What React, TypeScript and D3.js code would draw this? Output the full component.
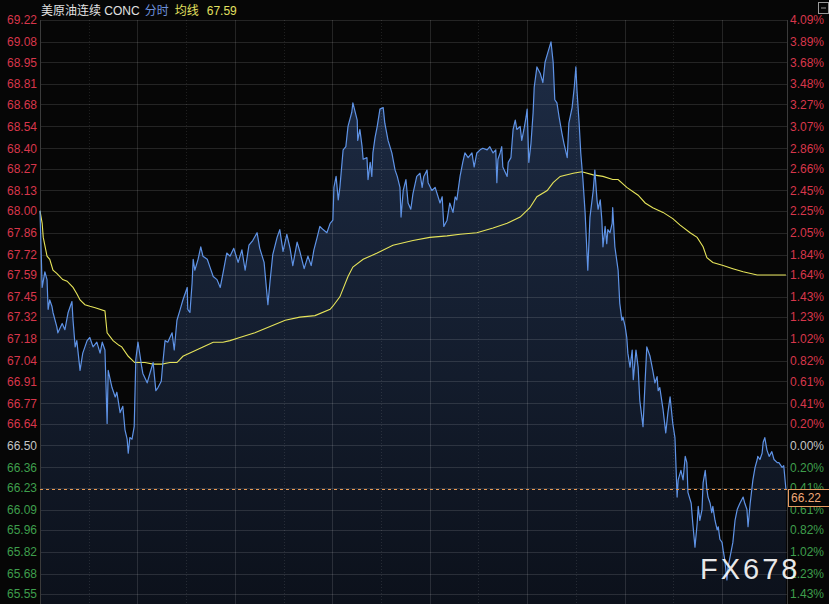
import React from "react";
import * as d3 from "d3";

const W = 829;
const H = 604;

const leftTicks = ["69.22","69.08","68.95","68.81","68.68","68.54","68.40","68.27","68.13","68.00","67.86","67.72","67.59","67.45","67.32","67.18","67.04","66.91","66.77","66.64","66.50","66.36","66.23","66.09","65.96","65.82","65.68","65.55"];
const rightTicks = ["4.09%","3.89%","3.68%","3.48%","3.27%","3.07%","2.86%","2.66%","2.45%","2.25%","2.05%","1.84%","1.64%","1.43%","1.23%","1.02%","0.82%","0.61%","0.41%","0.20%","0.00%","0.20%","0.41%","0.61%","0.82%","1.02%","1.23%","1.43%"];
const basePrice = 66.5;
const lastPrice = 66.22;
const avgLast = 67.59;
const sessionMinutes = 1380;
const gridTimes = [90,180,270,360,450,540,630,720,810,900,990,1080,1170,1260];

const priceTimes = [0,4,9,13,15,18,22,24,31,33,41,46,52,59,61,65,68,74,79,87,92,98,105,111,115,120,124,126,133,139,142,148,153,157,161,163,166,170,174,177,181,185,188,190,198,203,209,214,218,224,227,231,236,244,248,253,259,264,272,273,277,281,283,286,292,297,301,309,314,320,327,333,338,345,351,358,366,373,379,386,393,401,406,414,421,425,430,438,443,449,456,462,467,475,480,488,495,501,506,512,517,523,530,536,541,543,547,551,554,558,560,565,569,576,578,586,587,591,595,597,604,606,610,613,615,619,623,628,634,637,643,650,656,660,665,667,671,676,680,685,689,696,702,706,709,715,717,724,730,739,743,746,752,757,763,767,770,776,781,785,791,798,802,807,813,818,826,831,837,842,844,846,850,853,855,863,865,870,874,878,881,887,890,894,898,900,903,907,911,913,918,924,929,933,938,944,948,951,955,959,964,968,974,977,983,987,990,992,996,999,1003,1007,1012,1016,1022,1025,1029,1031,1035,1038,1040,1044,1047,1049,1053,1057,1058,1062,1066,1068,1071,1075,1077,1081,1084,1086,1090,1094,1096,1101,1105,1108,1114,1118,1121,1127,1132,1136,1140,1142,1145,1151,1156,1160,1164,1169,1173,1177,1179,1184,1188,1192,1195,1197,1203,1206,1210,1214,1216,1219,1223,1225,1229,1232,1234,1238,1241,1243,1247,1251,1253,1256,1260,1262,1265,1269,1271,1275,1280,1284,1288,1293,1299,1302,1306,1308,1312,1315,1317,1321,1325,1326,1330,1334,1336,1339,1343,1347,1352,1356,1362,1365,1371,1374,1378];
const priceValues = [68.00,67.51,67.61,67.56,67.37,67.43,67.39,67.35,67.26,67.22,67.28,67.24,67.35,67.42,67.30,67.13,67.17,66.98,67.09,67.17,67.19,67.13,67.16,67.09,67.16,67.11,66.64,66.98,66.87,66.81,66.84,66.71,66.75,66.60,66.54,66.45,66.55,66.54,66.62,67.05,67.16,67.07,67.00,66.96,66.90,66.96,67.03,66.85,66.87,66.91,67.03,67.17,67.16,67.22,67.11,67.30,67.37,67.43,67.51,67.37,67.35,67.54,67.69,67.62,67.69,67.77,67.71,67.69,67.64,67.58,67.56,67.51,67.60,67.73,67.71,67.76,67.67,67.75,67.62,67.78,67.81,67.86,67.76,67.67,67.40,67.55,67.72,67.83,67.88,67.74,67.85,67.76,67.65,67.80,67.74,67.63,67.71,67.65,67.75,67.83,67.90,67.88,67.86,67.92,67.94,68.15,68.22,68.07,68.15,68.31,68.39,68.41,68.54,68.63,68.69,68.58,68.45,68.52,68.41,68.33,68.34,68.20,68.31,68.22,68.37,68.47,68.54,68.65,68.66,68.56,68.45,68.37,68.26,68.22,68.15,67.96,68.13,68.20,68.05,68.01,68.11,68.22,68.24,68.15,68.22,68.26,68.18,68.13,68.15,68.05,68.09,67.90,67.94,68.05,67.99,68.09,68.07,68.22,68.31,68.37,68.34,68.37,68.28,68.37,68.39,68.40,68.39,68.41,68.37,68.39,68.18,68.33,68.37,68.41,68.28,68.22,68.31,68.34,68.52,68.58,68.52,68.54,68.45,68.52,68.60,68.65,68.31,68.43,68.63,68.79,68.92,68.88,68.82,68.95,69.01,69.08,68.95,68.71,68.69,68.60,68.50,68.43,68.34,68.56,68.66,68.79,68.92,68.77,68.56,68.37,68.20,67.99,67.62,67.96,68.13,68.26,68.07,68.01,68.07,67.94,67.77,67.90,67.79,67.88,67.86,67.92,68.02,67.77,67.67,67.62,67.41,67.30,67.32,67.26,67.19,67.09,67.00,67.11,66.92,67.11,67.00,66.79,66.62,66.92,67.13,67.07,66.98,66.90,66.94,66.85,66.87,66.73,66.58,66.71,66.81,66.64,66.55,66.17,66.28,66.34,66.28,66.43,66.39,66.20,66.13,66.00,65.85,66.00,66.11,66.02,66.09,66.26,66.34,66.22,66.17,66.13,66.07,66.11,66.02,65.96,65.98,65.90,65.88,65.83,65.77,65.64,65.72,65.79,65.88,66.02,66.09,66.13,66.17,66.13,66.09,65.98,66.13,66.22,66.28,66.36,66.41,66.43,66.41,66.45,66.52,66.55,66.47,66.43,66.46,66.41,66.39,66.39,66.36,66.37,66.22];

const avgTimes = [0,4,6,13,18,24,31,42,50,61,68,74,83,92,102,120,124,135,146,151,163,175,194,209,225,240,253,264,283,301,320,338,351,369,397,425,453,480,508,536,541,554,569,578,597,623,652,689,720,752,776,807,837,863,887,905,918,937,948,961,985,1001,1022,1040,1058,1068,1084,1105,1118,1132,1151,1169,1182,1201,1214,1225,1232,1243,1262,1280,1299,1325,1349,1378];
const avgValues = [68.00,67.92,67.83,67.71,67.69,67.62,67.60,67.56,67.55,67.51,67.47,67.43,67.40,67.39,67.38,67.36,67.22,67.17,67.14,67.13,67.07,67.03,67.03,67.02,67.02,67.03,67.03,67.07,67.10,67.13,67.16,67.16,67.17,67.19,67.22,67.26,67.30,67.32,67.33,67.37,67.39,67.45,67.58,67.64,67.69,67.73,67.78,67.81,67.83,67.84,67.85,67.86,67.89,67.92,67.96,68.02,68.09,68.13,68.18,68.22,68.24,68.25,68.23,68.22,68.20,68.20,68.15,68.10,68.05,68.02,67.99,67.95,67.91,67.86,67.83,67.77,67.70,67.67,67.65,67.63,67.61,67.59,67.59,67.59];

const PL = 40, PR = 787, PT = 20, PB = 594;
const FONT = "Arial, 'Liberation Sans', 'Noto Sans CJK SC', sans-serif";

export default function App() {
  const x = d3.scaleLinear().domain([0, sessionMinutes]).range([PL, PR]);
  const y = d3.scaleLinear().domain([65.55, 69.22]).range([PB, PT]);

  const pricePts: [number, number][] = priceTimes.map((t, i) => [t, priceValues[i]]);
  const avgPts: [number, number][] = avgTimes.map((t, i) => [t, avgValues[i]]);

  const line = d3.line<[number, number]>().x(d => x(d[0])).y(d => y(d[1]));
  const area = d3.area<[number, number]>().x(d => x(d[0])).y0(H).y1(d => y(d[1]));

  const tickColor = (v: number) => (v > basePrice + 0.001 ? "#d8364b" : v < basePrice - 0.001 ? "#3e9e4c" : "#c4c4c4");

  const yLast = Math.round(y(lastPrice)) + 0.5;

  return (
    <div style={{ position: "fixed", left: 0, top: 0, width: W, height: H, background: "#050505" }}>
      <svg width={W} height={H} style={{ display: "block" }} fontFamily={FONT}>
        <defs>
          <linearGradient id="fillGrad" gradientUnits="userSpaceOnUse" x1="0" y1={PT} x2="0" y2={H}>
            <stop offset="0%" stopColor="#1e2d47" />
            <stop offset="100%" stopColor="#0c111b" />
          </linearGradient>
        </defs>
        <rect x={0} y={0} width={W} height={H} fill="#060606" />

        <path d={area(pricePts) || ""} fill="url(#fillGrad)" />

        {leftTicks.map((lbl, i) => {
          const yy = Math.round(y(+lbl)) + 0.5;
          return <line key={"h" + i} x1={PL} x2={PR} y1={yy} y2={yy} stroke="rgba(255,255,255,0.12)" strokeWidth={1} />;
        })}
        {gridTimes.map((t, i) => {
          const xx = Math.round(x(t)) + 0.5;
          const solid = t % 180 === 0;
          return (
            <line key={"v" + i} x1={xx} x2={xx} y1={PT} y2={H}
              stroke={solid ? "rgba(255,255,255,0.12)" : "rgba(255,255,255,0.10)"}
              strokeDasharray={solid ? undefined : "1,2"} strokeWidth={1} />
          );
        })}
        <line x1={PL + 0.5} x2={PL + 0.5} y1={PT} y2={H} stroke="#3a3a3a" />
        <line x1={PR + 0.5} x2={PR + 0.5} y1={PT} y2={H} stroke="#3a3a3a" />

        <path d={line(avgPts) || ""} fill="none" stroke="#e6e45a" strokeWidth={1.1} />
        <path d={line(pricePts) || ""} fill="none" stroke="#5f93e6" strokeWidth={1.2} strokeLinejoin="round" />

        <line x1={PL} x2={PR} y1={yLast} y2={yLast} stroke="#e89a55" strokeDasharray="3,3" strokeWidth={1} />

        {leftTicks.map((lbl, i) => (
          <text key={"l" + i} x={37} y={y(+lbl)} dy="0.36em" textAnchor="end" fontSize={12} fill={tickColor(+lbl)}>{lbl}</text>
        ))}
        {rightTicks.map((lbl, i) => (
          <text key={"r" + i} x={790} y={y(+leftTicks[i])} dy="0.36em" textAnchor="start" fontSize={12} fill={tickColor(+leftTicks[i])}>{lbl}</text>
        ))}

        <rect x={788.5} y={yLast} width={45} height={17} fill="#060606" stroke="#e89a60" strokeWidth={1} />
        <text x={791} y={yLast + 8.5} dy="0.36em" fontSize={12} fill="#f0a878">{lastPrice.toFixed(2)}</text>

        <text x={41} y={15} fontSize={12}>
          <tspan fill="#e2e2e2">美原油连续 CONC</tspan>
          <tspan fill="#6c90dc" dx={5}>分时</tspan>
          <tspan fill="#e2e060" dx={6}>均线</tspan>
          <tspan fill="#e2e060" dx={8}>{avgLast.toFixed(2)}</tspan>
        </text>

        <rect x={818.5} y={2.5} width={10} height={11} fill="none" stroke="#9a9a9a" strokeWidth={1} />
        <line x1={821} x2={826} y1={8} y2={8} stroke="#9a9a9a" />

        <text x={700} y={579} fontSize={29} fill="rgba(255,255,255,0.92)" letterSpacing={3} fontFamily="Arial, 'Liberation Sans', sans-serif">FX678</text>
      </svg>
    </div>
  );
}
